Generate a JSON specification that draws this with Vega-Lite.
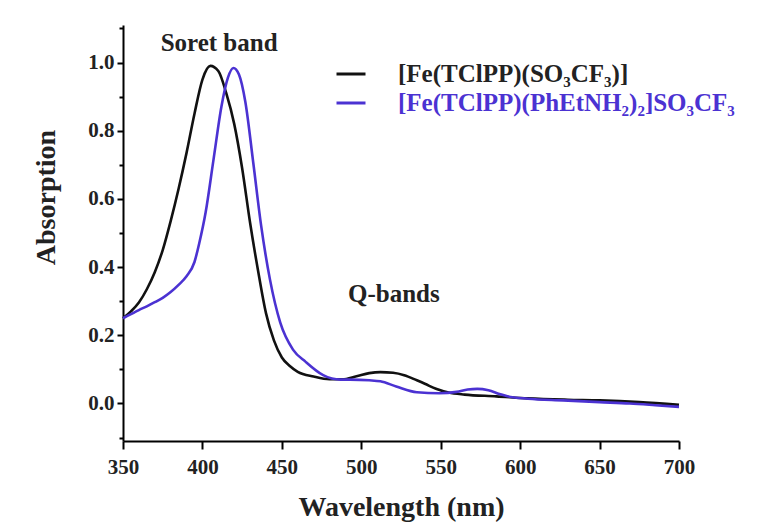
{
  "$schema": "https://vega.github.io/schema/vega-lite/v6.json",
  "width": 556,
  "height": 416,
  "autosize": "none",
  "padding": {"left": 123, "top": 25, "right": 88, "bottom": 88},
  "background": "white",
  "config": {
    "view": {"stroke": null},
    "font": "Liberation Serif",
    "axis": {
      "grid": false,
      "domainColor": "black",
      "domainWidth": 2,
      "tickColor": "black",
      "tickWidth": 2,
      "labelFont": "Liberation Serif",
      "labelFontWeight": "bold",
      "labelFontSize": 21,
      "labelColor": "#222",
      "labelOverlap": false,
      "labelFlush": false,
      "titleFont": "Liberation Serif",
      "titleFontWeight": "bold",
      "titleFontSize": 28,
      "titleColor": "#222"
    }
  },
  "resolve": {"scale": {"y": "independent"}},
  "datasets": {
    "spectra": [
      {"compound": "[Fe(TClPP)(SO₃CF₃)]", "wavelength": 350, "absorption": 0.25},
      {"compound": "[Fe(TClPP)(SO₃CF₃)]", "wavelength": 355, "absorption": 0.27},
      {"compound": "[Fe(TClPP)(SO₃CF₃)]", "wavelength": 360, "absorption": 0.296},
      {"compound": "[Fe(TClPP)(SO₃CF₃)]", "wavelength": 365, "absorption": 0.335},
      {"compound": "[Fe(TClPP)(SO₃CF₃)]", "wavelength": 370, "absorption": 0.385},
      {"compound": "[Fe(TClPP)(SO₃CF₃)]", "wavelength": 375, "absorption": 0.45},
      {"compound": "[Fe(TClPP)(SO₃CF₃)]", "wavelength": 380, "absorption": 0.535},
      {"compound": "[Fe(TClPP)(SO₃CF₃)]", "wavelength": 385, "absorption": 0.63},
      {"compound": "[Fe(TClPP)(SO₃CF₃)]", "wavelength": 390, "absorption": 0.735},
      {"compound": "[Fe(TClPP)(SO₃CF₃)]", "wavelength": 395, "absorption": 0.85},
      {"compound": "[Fe(TClPP)(SO₃CF₃)]", "wavelength": 400, "absorption": 0.95},
      {"compound": "[Fe(TClPP)(SO₃CF₃)]", "wavelength": 405, "absorption": 0.99},
      {"compound": "[Fe(TClPP)(SO₃CF₃)]", "wavelength": 410, "absorption": 0.975},
      {"compound": "[Fe(TClPP)(SO₃CF₃)]", "wavelength": 415, "absorption": 0.91},
      {"compound": "[Fe(TClPP)(SO₃CF₃)]", "wavelength": 420, "absorption": 0.82},
      {"compound": "[Fe(TClPP)(SO₃CF₃)]", "wavelength": 425, "absorption": 0.69},
      {"compound": "[Fe(TClPP)(SO₃CF₃)]", "wavelength": 430, "absorption": 0.53},
      {"compound": "[Fe(TClPP)(SO₃CF₃)]", "wavelength": 435, "absorption": 0.39},
      {"compound": "[Fe(TClPP)(SO₃CF₃)]", "wavelength": 440, "absorption": 0.265},
      {"compound": "[Fe(TClPP)(SO₃CF₃)]", "wavelength": 445, "absorption": 0.185},
      {"compound": "[Fe(TClPP)(SO₃CF₃)]", "wavelength": 450, "absorption": 0.135},
      {"compound": "[Fe(TClPP)(SO₃CF₃)]", "wavelength": 455, "absorption": 0.11},
      {"compound": "[Fe(TClPP)(SO₃CF₃)]", "wavelength": 460, "absorption": 0.093},
      {"compound": "[Fe(TClPP)(SO₃CF₃)]", "wavelength": 470, "absorption": 0.079},
      {"compound": "[Fe(TClPP)(SO₃CF₃)]", "wavelength": 480, "absorption": 0.071},
      {"compound": "[Fe(TClPP)(SO₃CF₃)]", "wavelength": 488, "absorption": 0.071},
      {"compound": "[Fe(TClPP)(SO₃CF₃)]", "wavelength": 497, "absorption": 0.08},
      {"compound": "[Fe(TClPP)(SO₃CF₃)]", "wavelength": 505, "absorption": 0.089},
      {"compound": "[Fe(TClPP)(SO₃CF₃)]", "wavelength": 512, "absorption": 0.092},
      {"compound": "[Fe(TClPP)(SO₃CF₃)]", "wavelength": 520, "absorption": 0.09},
      {"compound": "[Fe(TClPP)(SO₃CF₃)]", "wavelength": 527, "absorption": 0.083},
      {"compound": "[Fe(TClPP)(SO₃CF₃)]", "wavelength": 535, "absorption": 0.068},
      {"compound": "[Fe(TClPP)(SO₃CF₃)]", "wavelength": 540, "absorption": 0.058},
      {"compound": "[Fe(TClPP)(SO₃CF₃)]", "wavelength": 547, "absorption": 0.043},
      {"compound": "[Fe(TClPP)(SO₃CF₃)]", "wavelength": 555, "absorption": 0.032},
      {"compound": "[Fe(TClPP)(SO₃CF₃)]", "wavelength": 565, "absorption": 0.026},
      {"compound": "[Fe(TClPP)(SO₃CF₃)]", "wavelength": 585, "absorption": 0.021},
      {"compound": "[Fe(TClPP)(SO₃CF₃)]", "wavelength": 605, "absorption": 0.015},
      {"compound": "[Fe(TClPP)(SO₃CF₃)]", "wavelength": 630, "absorption": 0.011},
      {"compound": "[Fe(TClPP)(SO₃CF₃)]", "wavelength": 650, "absorption": 0.009},
      {"compound": "[Fe(TClPP)(SO₃CF₃)]", "wavelength": 675, "absorption": 0.004},
      {"compound": "[Fe(TClPP)(SO₃CF₃)]", "wavelength": 700, "absorption": -0.004},
      {"compound": "[Fe(TClPP)(PhEtNH₂)₂]SO₃CF₃", "wavelength": 350, "absorption": 0.25},
      {"compound": "[Fe(TClPP)(PhEtNH₂)₂]SO₃CF₃", "wavelength": 355, "absorption": 0.262},
      {"compound": "[Fe(TClPP)(PhEtNH₂)₂]SO₃CF₃", "wavelength": 360, "absorption": 0.274},
      {"compound": "[Fe(TClPP)(PhEtNH₂)₂]SO₃CF₃", "wavelength": 365, "absorption": 0.285},
      {"compound": "[Fe(TClPP)(PhEtNH₂)₂]SO₃CF₃", "wavelength": 370, "absorption": 0.297},
      {"compound": "[Fe(TClPP)(PhEtNH₂)₂]SO₃CF₃", "wavelength": 375, "absorption": 0.31},
      {"compound": "[Fe(TClPP)(PhEtNH₂)₂]SO₃CF₃", "wavelength": 380, "absorption": 0.327},
      {"compound": "[Fe(TClPP)(PhEtNH₂)₂]SO₃CF₃", "wavelength": 385, "absorption": 0.348},
      {"compound": "[Fe(TClPP)(PhEtNH₂)₂]SO₃CF₃", "wavelength": 390, "absorption": 0.373},
      {"compound": "[Fe(TClPP)(PhEtNH₂)₂]SO₃CF₃", "wavelength": 395, "absorption": 0.415},
      {"compound": "[Fe(TClPP)(PhEtNH₂)₂]SO₃CF₃", "wavelength": 398, "absorption": 0.47},
      {"compound": "[Fe(TClPP)(PhEtNH₂)₂]SO₃CF₃", "wavelength": 402, "absorption": 0.56},
      {"compound": "[Fe(TClPP)(PhEtNH₂)₂]SO₃CF₃", "wavelength": 407, "absorption": 0.716},
      {"compound": "[Fe(TClPP)(PhEtNH₂)₂]SO₃CF₃", "wavelength": 412, "absorption": 0.872},
      {"compound": "[Fe(TClPP)(PhEtNH₂)₂]SO₃CF₃", "wavelength": 416, "absorption": 0.955},
      {"compound": "[Fe(TClPP)(PhEtNH₂)₂]SO₃CF₃", "wavelength": 419.5, "absorption": 0.984},
      {"compound": "[Fe(TClPP)(PhEtNH₂)₂]SO₃CF₃", "wavelength": 423, "absorption": 0.965},
      {"compound": "[Fe(TClPP)(PhEtNH₂)₂]SO₃CF₃", "wavelength": 427, "absorption": 0.885},
      {"compound": "[Fe(TClPP)(PhEtNH₂)₂]SO₃CF₃", "wavelength": 432, "absorption": 0.706},
      {"compound": "[Fe(TClPP)(PhEtNH₂)₂]SO₃CF₃", "wavelength": 437, "absorption": 0.52},
      {"compound": "[Fe(TClPP)(PhEtNH₂)₂]SO₃CF₃", "wavelength": 442.5, "absorption": 0.364},
      {"compound": "[Fe(TClPP)(PhEtNH₂)₂]SO₃CF₃", "wavelength": 449, "absorption": 0.237},
      {"compound": "[Fe(TClPP)(PhEtNH₂)₂]SO₃CF₃", "wavelength": 457, "absorption": 0.158},
      {"compound": "[Fe(TClPP)(PhEtNH₂)₂]SO₃CF₃", "wavelength": 465, "absorption": 0.122},
      {"compound": "[Fe(TClPP)(PhEtNH₂)₂]SO₃CF₃", "wavelength": 476, "absorption": 0.083},
      {"compound": "[Fe(TClPP)(PhEtNH₂)₂]SO₃CF₃", "wavelength": 487, "absorption": 0.07},
      {"compound": "[Fe(TClPP)(PhEtNH₂)₂]SO₃CF₃", "wavelength": 493, "absorption": 0.07},
      {"compound": "[Fe(TClPP)(PhEtNH₂)₂]SO₃CF₃", "wavelength": 505, "absorption": 0.068},
      {"compound": "[Fe(TClPP)(PhEtNH₂)₂]SO₃CF₃", "wavelength": 512, "absorption": 0.065},
      {"compound": "[Fe(TClPP)(PhEtNH₂)₂]SO₃CF₃", "wavelength": 522, "absorption": 0.05},
      {"compound": "[Fe(TClPP)(PhEtNH₂)₂]SO₃CF₃", "wavelength": 535, "absorption": 0.033},
      {"compound": "[Fe(TClPP)(PhEtNH₂)₂]SO₃CF₃", "wavelength": 549, "absorption": 0.03},
      {"compound": "[Fe(TClPP)(PhEtNH₂)₂]SO₃CF₃", "wavelength": 560, "absorption": 0.034},
      {"compound": "[Fe(TClPP)(PhEtNH₂)₂]SO₃CF₃", "wavelength": 567, "absorption": 0.041},
      {"compound": "[Fe(TClPP)(PhEtNH₂)₂]SO₃CF₃", "wavelength": 573, "absorption": 0.043},
      {"compound": "[Fe(TClPP)(PhEtNH₂)₂]SO₃CF₃", "wavelength": 580, "absorption": 0.039},
      {"compound": "[Fe(TClPP)(PhEtNH₂)₂]SO₃CF₃", "wavelength": 587, "absorption": 0.028},
      {"compound": "[Fe(TClPP)(PhEtNH₂)₂]SO₃CF₃", "wavelength": 592, "absorption": 0.021},
      {"compound": "[Fe(TClPP)(PhEtNH₂)₂]SO₃CF₃", "wavelength": 605, "absorption": 0.014},
      {"compound": "[Fe(TClPP)(PhEtNH₂)₂]SO₃CF₃", "wavelength": 627, "absorption": 0.009},
      {"compound": "[Fe(TClPP)(PhEtNH₂)₂]SO₃CF₃", "wavelength": 650, "absorption": 0.004},
      {"compound": "[Fe(TClPP)(PhEtNH₂)₂]SO₃CF₃", "wavelength": 669, "absorption": 0.0},
      {"compound": "[Fe(TClPP)(PhEtNH₂)₂]SO₃CF₃", "wavelength": 685, "absorption": -0.005},
      {"compound": "[Fe(TClPP)(PhEtNH₂)₂]SO₃CF₃", "wavelength": 700, "absorption": -0.01}
    ]
  },
  "layer": [
    {
      "data": {"name": "spectra"},
      "mark": {"type": "line", "strokeWidth": 2.6, "interpolate": "monotone"},
      "encoding": {
        "x": {
          "field": "wavelength",
          "type": "quantitative",
          "scale": {"domain": [350, 700], "nice": false, "zero": false},
          "axis": {
            "title": "Wavelength (nm)",
            "format": "d",
            "values": [350, 375, 400, 425, 450, 475, 500, 525, 550, 575, 600, 625, 650, 675, 700],
            "labelExpr": "datum.value % 50 === 0 ? datum.label : ''",
            "tickSize": {"condition": {"test": "datum.value % 50 === 0", "value": 8}, "value": 5},
            "labelPadding": 7,
            "titlePadding": 16
          }
        },
        "y": {
          "field": "absorption",
          "type": "quantitative",
          "scale": {"domain": [-0.11, 1.11], "nice": false, "zero": false},
          "axis": {
            "title": "Absorption",
            "orient": "left",
            "format": ".1f",
            "values": [0, 0.2, 0.4, 0.6, 0.8, 1.0],
            "tickSize": 6,
            "labelPadding": 3,
            "titlePadding": 27,
            "titleY": 172
          }
        },
        "color": {
          "field": "compound",
          "type": "nominal",
          "sort": null,
          "scale": {
            "domain": ["[Fe(TClPP)(SO₃CF₃)]", "[Fe(TClPP)(PhEtNH₂)₂]SO₃CF₃"],
            "range": ["#111111", "#4b32d2"]
          },
          "legend": {
            "orient": "none",
            "legendX": 212,
            "legendY": 33,
            "title": null,
            "symbolType": "stroke",
            "symbolStrokeWidth": 3,
            "symbolSize": 841,
            "labelFont": "Liberation Serif",
            "labelFontWeight": "bold",
            "labelFontSize": 25,
            "labelOffset": 31,
            "labelLimit": 0,
            "rowPadding": 0,
            "encode": {
              "labels": {
                "update": {
                  "fill": {"signal": "indexof(datum.value, 'PhEt') >= 0 ? '#4b32d2' : '#222222'"}
                }
              }
            }
          }
        }
      }
    },
    {
      "data": {"values": [{}]},
      "mark": {"type": "text", "font": "Liberation Serif", "fontWeight": "bold", "fontSize": 25, "color": "#222", "align": "center", "baseline": "middle"},
      "encoding": {
        "x": {"datum": 410.5},
        "y": {"datum": 1.056, "scale": {"domain": [-0.11, 1.11], "nice": false, "zero": false}, "axis": null},
        "text": {"value": "Soret band"}
      }
    },
    {
      "data": {"values": [{}]},
      "mark": {"type": "text", "font": "Liberation Serif", "fontWeight": "bold", "fontSize": 25, "color": "#222", "align": "center", "baseline": "middle"},
      "encoding": {
        "x": {"datum": 520.5},
        "y": {
          "datum": 0.32,
          "scale": {"domain": [-0.11, 1.11], "nice": false, "zero": false},
          "axis": {
            "orient": "left",
            "title": null,
            "labels": false,
            "domain": false,
            "values": [-0.1, 0.1, 0.3, 0.5, 0.7, 0.9, 1.1],
            "tickSize": 4,
            "offset": 0
          }
        },
        "text": {"value": "Q-bands"}
      }
    }
  ]
}
